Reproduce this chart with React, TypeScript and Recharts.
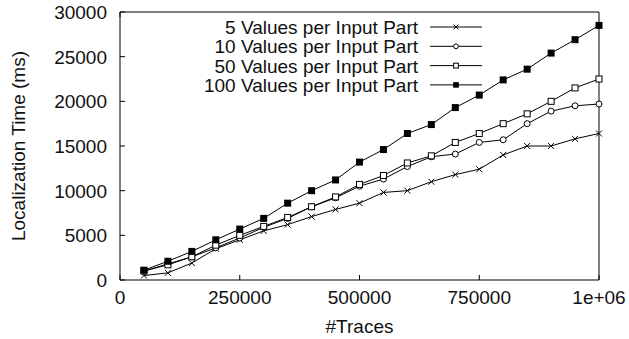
import { LineChart, Line, XAxis, YAxis, Legend } from 'recharts'

const traces = [
  50000, 100000, 150000, 200000, 250000, 300000, 350000, 400000, 450000, 500000,
  550000, 600000, 650000, 700000, 750000, 800000, 850000, 900000, 950000, 1000000,
]
const vals5 = [500, 800, 1900, 3500, 4500, 5500, 6200, 7100, 7900, 8600, 9800, 10000, 11000, 11800, 12400, 14000, 15000, 15000, 15800, 16400]
const vals10 = [1000, 1800, 2600, 3600, 4700, 5900, 6900, 8200, 9200, 10500, 11300, 12700, 13800, 14100, 15400, 15700, 17500, 18900, 19500, 19700]
const vals50 = [1000, 1700, 2600, 3900, 5000, 6000, 7000, 8200, 9300, 10700, 11700, 13100, 13900, 15400, 16400, 17500, 18600, 20000, 21500, 22500]
const vals100 = [1100, 2100, 3200, 4500, 5700, 6900, 8600, 10000, 11200, 13200, 14600, 16400, 17400, 19300, 20700, 22400, 23600, 25400, 26900, 28500]

const xTicks = [0, 250000, 500000, 750000, 1000000]
const yTicks = [0, 5000, 10000, 15000, 20000, 25000, 30000]

const seriesNames = [
  '5 Values per Input Part',
  '10 Values per Input Part',
  '50 Values per Input Part',
  '100 Values per Input Part',
]
const seriesKeys = ['v5', 'v10', 'v50', 'v100']

const data = traces.map((t, i) => ({
  traces: t,
  v5: vals5[i],
  v10: vals10[i],
  v50: vals50[i],
  v100: vals100[i],
}))

const FONT = '"Liberation Sans", Arial, Helvetica, sans-serif'
const FS = 19
const TICK = 5
const INK = '#000'

const fmtX = (v: number) => (v === 1000000 ? '1e+06' : String(v))

// marker shapes, gnuplot style
function Marker({ kind, cx, cy, s = 1 }: { kind: string; cx: number; cy: number; s?: number }) {
  if (cx == null || cy == null) return null
  if (kind === 'v5') {
    const h = 3 * s
    return (
      <g stroke={INK} strokeWidth={1}>
        <line x1={cx - h} y1={cy - h} x2={cx + h} y2={cy + h} />
        <line x1={cx - h} y1={cy + h} x2={cx + h} y2={cy - h} />
      </g>
    )
  }
  if (kind === 'v10') return <circle cx={cx} cy={cy} r={3 * s} fill="#fff" stroke={INK} strokeWidth={1} />
  if (kind === 'v50') {
    const h = 3 * s
    return <rect x={cx - h} y={cy - h} width={2 * h} height={2 * h} fill="#fff" stroke={INK} strokeWidth={1} />
  }
  const h = 3.5 * s
  return <rect x={cx - h} y={cy - h} width={2 * h} height={2 * h} fill={INK} />
}

const textStyle = { fontFamily: FONT, fontSize: FS, fill: '#111' }

function BottomTick(props: any) {
  const { x, y, payload } = props
  return (
    <g>
      <line x1={x} y1={y} x2={x} y2={y - TICK} stroke={INK} />
      <text x={x} y={y + 24} textAnchor="middle" style={textStyle}>{fmtX(payload.value)}</text>
    </g>
  )
}

function LeftTick(props: any) {
  const { x, y, payload } = props
  return (
    <g>
      <line x1={x} y1={y} x2={x + TICK} y2={y} stroke={INK} />
      <text x={x - 13} y={y + 7} textAnchor="end" style={textStyle}>{payload.value}</text>
    </g>
  )
}

function TopTick(props: any) {
  const { x, y } = props
  return <line x1={x} y1={y} x2={x} y2={y + TICK} stroke={INK} />
}

function RightTick(props: any) {
  const { x, y } = props
  return <line x1={x} y1={y} x2={x - TICK} y2={y} stroke={INK} />
}

function KeyBox() {
  return (
    <svg width={200} height={90} style={{ overflow: 'visible' }}>
      {seriesNames.map((name, i) => {
        const cy = 9 + i * 19.3
        return (
          <g key={name}>
            <text x={-12} y={cy + 7} textAnchor="end" style={textStyle}>{name}</text>
            <line x1={0} y1={cy} x2={52} y2={cy} stroke={INK} />
            <Marker kind={seriesKeys[i]} cx={26} cy={cy} s={0.8} />
          </g>
        )
      })}
    </svg>
  )
}

export default function App() {
  return (
    <div style={{ position: 'absolute', left: 0, top: 0, background: '#fff' }}>
      <LineChart
        width={629}
        height={339}
        data={data}
        margin={{ top: 10, right: 20, bottom: 0, left: 0 }}
      >
        <XAxis
          dataKey="traces"
          type="number"
          domain={[0, 1000000]}
          ticks={xTicks}
          height={59}
          axisLine={{ stroke: INK }}
          tickLine={false}
          tickSize={0}
          tickMargin={0}
          tick={<BottomTick />}
          interval={0}
          label={{
            content: (p: any) => {
              const vb = p.viewBox
              return (
                <text x={vb.x + vb.width / 2} y={333} textAnchor="middle" style={textStyle}>#Traces</text>
              )
            },
          }}
        />
        <XAxis
          xAxisId="top"
          orientation="top"
          type="number"
          domain={[0, 1000000]}
          ticks={xTicks}
          height={2}
          axisLine={{ stroke: INK }}
          tickLine={false}
          tickSize={0}
          tickMargin={0}
          tick={<TopTick />}
          interval={0}
        />
        <YAxis
          type="number"
          domain={[0, 30000]}
          ticks={yTicks}
          width={120}
          axisLine={{ stroke: INK }}
          tickLine={false}
          tickSize={0}
          tickMargin={0}
          tick={<LeftTick />}
          interval={0}
          label={{
            content: (p: any) => {
              const vb = p.viewBox
              const cx = 18
              const cy = vb.y + vb.height / 2
              return (
                <text
                  x={cx}
                  y={cy}
                  transform={`rotate(-90 ${cx} ${cy})`}
                  textAnchor="middle"
                  dominantBaseline="central"
                  style={textStyle}
                >
                  Localization Time (ms)
                </text>
              )
            },
          }}
        />
        <YAxis
          yAxisId="right"
          orientation="right"
          type="number"
          domain={[0, 30000]}
          ticks={yTicks}
          width={10}
          axisLine={{ stroke: INK }}
          tickLine={false}
          tickSize={0}
          tickMargin={0}
          tick={<RightTick />}
          interval={0}
        />
        <Legend
          layout="horizontal"
          verticalAlign="middle"
          align="center"
          wrapperStyle={{ position: 'absolute', left: 430, top: 18, width: 200, height: 90 }}
          content={() => <KeyBox />}
        />
        {seriesKeys.map((k, i) => (
          <Line
            key={k}
            dataKey={k}
            name={seriesNames[i]}
            stroke={INK}
            strokeWidth={1}
            isAnimationActive={false}
            dot={(p: any) => <Marker key={`${k}-${p.index}`} kind={k} cx={p.cx} cy={p.cy} />}
            activeDot={false}
          />
        ))}
      </LineChart>
    </div>
  )
}
